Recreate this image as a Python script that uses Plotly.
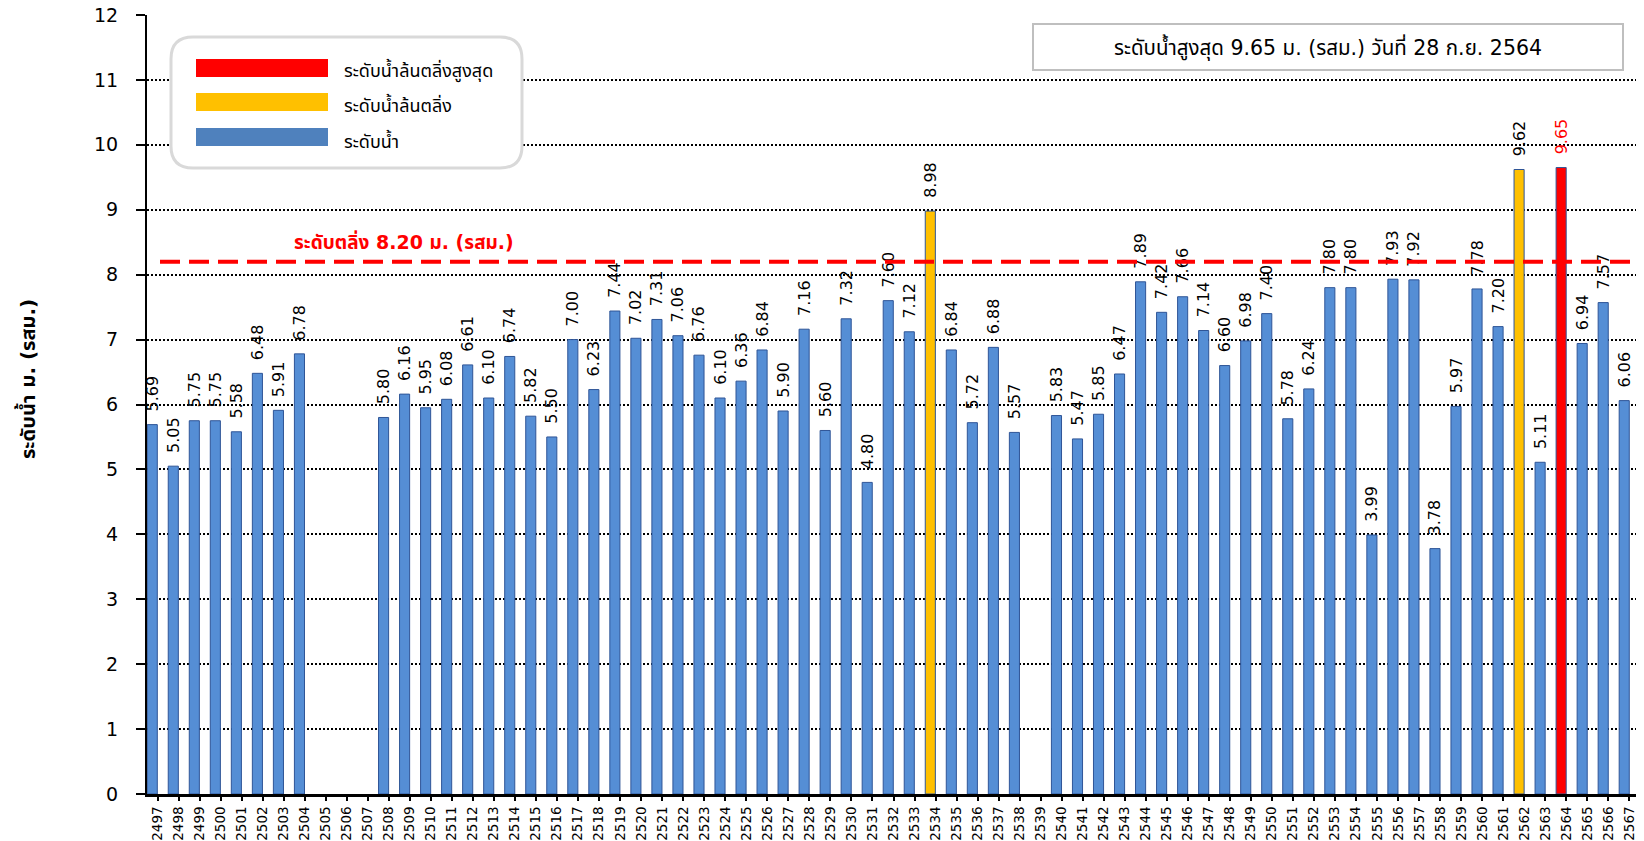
import plotly.graph_objects as go

# ข้อมูลระดับน้ำสูงสุดรายปี (ม. รสม.)
years = [str(y) for y in range(2497, 2568)]
water_level = [5.69, 5.05, 5.75, 5.75, 5.58, 6.48, 5.91, 6.78, None, None,
               None, 5.80, 6.16, 5.95, 6.08, 6.61, 6.10, 6.74, 5.82, 5.50,
               7.00, 6.23, 7.44, 7.02, 7.31, 7.06, 6.76, 6.10, 6.36, 6.84,
               5.90, 7.16, 5.60, 7.32, 4.80, 7.60, 7.12, 8.98, 6.84, 5.72,
               6.88, 5.57, None, 5.83, 5.47, 5.85, 6.47, 7.89, 7.42, 7.66,
               7.14, 6.60, 6.98, 7.40, 5.78, 6.24, 7.80, 7.80, 3.99, 7.93,
               7.92, 3.78, 5.97, 7.78, 7.20, 9.62, 5.11, 9.65, 6.94, 7.57,
               6.06]
overflow_years = ["2534", "2562"]
max_year = "2564"
bank_level = 8.20

legend_labels = ["ระดับน้ำล้นตลิ่งสูงสุด", "ระดับน้ำล้นตลิ่ง", "ระดับน้ำ"]
legend_colors = ["#FF0000", "#FFC000", "#4F81BD"]

BLUE, YELLOW, RED = "#558ED5", "#FFC000", "#FF0000"
FONT = "Tahoma, 'DejaVu Sans', 'Noto Sans Thai', sans-serif"

bar_colors = []
text_colors = []
for y in years:
    if y == max_year:
        bar_colors.append(RED)
        text_colors.append(RED)
    elif y in overflow_years:
        bar_colors.append(YELLOW)
        text_colors.append("black")
    else:
        bar_colors.append(BLUE)
        text_colors.append("black")
labels = ["" if v is None else "\u00a0\u00a0%.2f" % v for v in water_level]

fig = go.Figure(go.Bar(
    x=years, y=water_level, text=labels,
    textposition="outside", textangle=-90, constraintext="none",
    textfont=dict(size=16, color=text_colors, family=FONT),
    marker=dict(color=bar_colors, line=dict(color="#2F5597", width=1)),
    offset=-0.49, width=0.48, cliponaxis=False, showlegend=False,
))

# หน้า html มีขอบ body 8px -> ชดเชยตำแหน่ง
PAD = 8
W, H = 1644 - PAD, 841 - PAD
# ตำแหน่งพื้นที่กราฟ (พิกัดหน้าจอ)
L, R, T, B = 147, 1640, 15, 794
def xp(px):
    return (px - L) / (R - L)
def yp(py):
    return (B - py) / (B - T)

shapes = []
# เส้นระดับตลิ่ง
shapes.append(dict(type="line", xref="paper", yref="y", x0=xp(160), x1=xp(1638),
                   y0=bank_level, y1=bank_level,
                   line=dict(color="#FF0000", width=4, dash="20px,9px"), layer="above"))

# กรอบคำอธิบาย (มุมโค้ง)
x0, x1, y0, y1, r = 171, 522, 37, 168, 22
path = ("M %f,%f L %f,%f Q %f,%f %f,%f L %f,%f Q %f,%f %f,%f L %f,%f Q %f,%f %f,%f "
        "L %f,%f Q %f,%f %f,%f Z") % (
    xp(x0 + r), yp(y0), xp(x1 - r), yp(y0), xp(x1), yp(y0), xp(x1), yp(y0 + r),
    xp(x1), yp(y1 - r), xp(x1), yp(y1), xp(x1 - r), yp(y1),
    xp(x0 + r), yp(y1), xp(x0), yp(y1), xp(x0), yp(y1 - r),
    xp(x0), yp(y0 + r), xp(x0), yp(y0), xp(x0 + r), yp(y0))
shapes.append(dict(type="path", xref="paper", yref="paper", path=path,
                   fillcolor="white", line=dict(color="#D9D9D9", width=3), layer="above"))

annotations = []
rows_y = [(59, 77), (93, 111), (128, 146)]
for (ya, yb), lab, col in zip(rows_y, legend_labels, legend_colors):
    shapes.append(dict(type="rect", xref="paper", yref="paper",
                       x0=xp(196), x1=xp(328), y0=yp(yb), y1=yp(ya),
                       fillcolor=col, line=dict(width=0), layer="above"))
    annotations.append(dict(xref="paper", yref="paper", x=xp(342), y=yp((ya + yb) / 2 + 3),
                            text=lab, showarrow=False, xanchor="left", yanchor="middle",
                            font=dict(size=18, color="black", family=FONT)))

# กล่องข้อความระดับน้ำสูงสุด
shapes.append(dict(type="rect", xref="paper", yref="paper",
                   x0=xp(1033), x1=xp(1623), y0=yp(70), y1=yp(24),
                   fillcolor="white", line=dict(color="#BFBFBF", width=2), layer="above"))
annotations.append(dict(xref="paper", yref="paper", x=xp(1328), y=yp(47),
                        text="ระดับน้ำสูงสุด 9.65 ม. (รสม.) วันที่ 28 ก.ย. 2564",
                        showarrow=False, xanchor="center", yanchor="middle",
                        font=dict(size=20.5, color="black", family=FONT)))

annotations.append(dict(xref="paper", yref="paper", x=xp(404), y=yp(242),
                        text="<b>ระดับตลิ่ง 8.20 ม. (รสม.)</b>", showarrow=False,
                        xanchor="center", yanchor="middle",
                        font=dict(size=19, color="#FF0000", family=FONT)))

annotations.append(dict(xref="paper", yref="paper", x=xp(27), y=yp(379),
                        text="<b>ระดับน้ำ ม. (รสม.)</b>", showarrow=False, textangle=-90,
                        xanchor="center", yanchor="middle",
                        font=dict(size=20, color="black", family=FONT)))

fig.update_layout(
    width=W, height=H,
    margin=dict(l=L - PAD, r=W - (R - PAD), t=T - PAD, b=H - (B - PAD)),
    plot_bgcolor="white", paper_bgcolor="white",
    font=dict(family=FONT, color="black"),
    shapes=shapes, annotations=annotations,
    xaxis=dict(type="category", tickangle=-90, tickfont=dict(size=13.5),
               showline=True, linecolor="black", linewidth=3,
               ticks="outside", ticklen=4, tickwidth=2, tickcolor="black",
               showgrid=False, automargin=False),
    yaxis=dict(range=[0, 12], dtick=1, tickfont=dict(size=19),
               showline=True, linecolor="black", linewidth=2, mirror=True,
               ticks="outside", ticklen=9, tickwidth=2, tickcolor="black",
               ticklabelstandoff=14, automargin=False, ticklabeloverflow="allow",
               showgrid=True, gridcolor="black", gridwidth=1.5, griddash="2px,2px",
               zeroline=False),
)

fig.write_html("out.html")
